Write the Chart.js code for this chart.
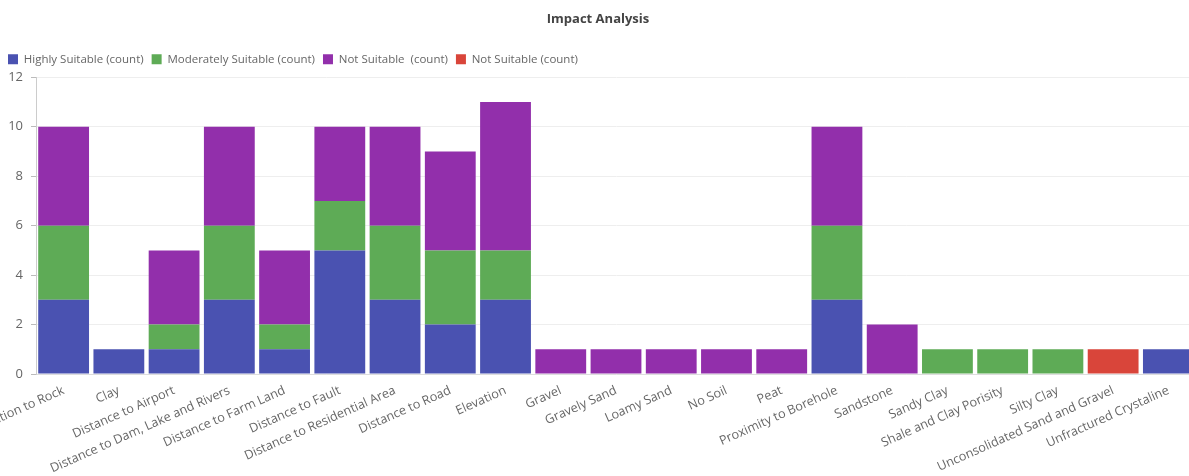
<!DOCTYPE html>
<html lang="en">
<head>
<meta charset="UTF-8">
<title>Impact Analysis</title>
<script src="https://cdn.jsdelivr.net/npm/chart.js"></script>
<style>
  html, body { margin:0; padding:0; background:#fff; overflow:hidden; }
  .wrap { width:1218px; height:476px; position:relative; }
</style>
</head>
<body>
<div class="wrap"><canvas id="impactChart"></canvas></div>

<script>
// factors / soil classes on the x axis
const categories = [
  'Alteration to Rock', 'Clay', 'Distance to Airport', 'Distance to Dam, Lake and Rivers',
  'Distance to Farm Land', 'Distance to Fault', 'Distance to Residential Area', 'Distance to Road',
  'Elevation', 'Gravel', 'Gravely Sand', 'Loamy Sand', 'No Soil', 'Peat',
  'Proximity to Borehole', 'Sandstone', 'Sandy Clay', 'Shale and Clay Porisity', 'Silty Clay',
  'Unconsolidated Sand and Gravel', 'Unfractured Crystaline'
];

// counts per suitability class
const highlySuitable     = [3, 1, 1, 3, 1, 5, 3, 2, 3, 0, 0, 0, 0, 0, 3, 0, 0, 0, 0, 0, 1];
const moderatelySuitable = [3, 0, 1, 3, 1, 2, 3, 3, 2, 0, 0, 0, 0, 0, 3, 0, 1, 1, 1, 0, 0];
const notSuitable        = [4, 0, 3, 4, 3, 3, 4, 4, 6, 1, 1, 1, 1, 1, 4, 2, 0, 0, 0, 0, 0];
const notSuitable2       = [0, 0, 0, 0, 0, 0, 0, 0, 0, 0, 0, 0, 0, 0, 0, 0, 0, 0, 0, 1, 0];

const yTicks = [0, 2, 4, 6, 8, 10, 12];

const FONT = "'Open Sans', sans-serif";
Chart.defaults.font.family = FONT;
Chart.defaults.color = '#666';

const ctx = document.getElementById('impactChart').getContext('2d');
new Chart(ctx, {
  type: 'bar',
  data: {
    labels: categories,
    datasets: [
      { label: 'Highly Suitable (count)',     data: highlySuitable,     backgroundColor: '#4a52b1' },
      { label: 'Moderately Suitable (count)', data: moderatelySuitable, backgroundColor: '#5eab56' },
      { label: 'Not Suitable  (count)',       data: notSuitable,        backgroundColor: '#922fab' },
      { label: 'Not Suitable (count)',        data: notSuitable2,       backgroundColor: '#d9453a' }
    ]
  },
  options: {
    responsive: true,
    maintainAspectRatio: false,
    animation: false,
    categoryPercentage: 1,
    barPercentage: 0.92,
    layout: { padding: { left: 0, right: 22, top: 0, bottom: 0 } },
    plugins: {
      title: {
        display: true,
        text: 'Impact Analysis',
        color: '#444',
        font: { size: 13, weight: 'bold', family: FONT },
        padding: { top: 11, bottom: 19 }
      },
      // empty subtitle used as a small gap between legend and plot
      subtitle: {
        display: true,
        text: '',
        weight: 500,
        font: { size: 1 },
        padding: { top: 0, bottom: 1 }
      },
      legend: {
        position: 'top',
        align: 'start',
        labels: { boxWidth: 10, boxHeight: 10, padding: 8, color: '#666', font: { size: 11.5, family: FONT } }
      },
      tooltip: { enabled: false }
    },
    scales: {
      x: {
        stacked: true,
        grid: { display: false },
        border: { color: '#ddd' },
        ticks: { autoSkip: false, minRotation: 24, maxRotation: 24, padding: 1, color: '#666', font: { size: 12.6 } },
        // let the first rotated label run off the left edge
        afterFit: (scale) => { scale.paddingLeft = 0; scale.height = 102; }
      },
      y: {
        stacked: true,
        min: 0,
        max: 12,
        afterBuildTicks: (scale) => { scale.ticks = yTicks.map(v => ({ value: v })); },
        grid: { color: '#eee', tickLength: 5, tickColor: '#bbb' },
        border: { color: '#ccc' },
        ticks: { padding: 8, color: '#666', font: { size: 13 } },
        afterFit: (scale) => { scale.width = 36; }
      }
    }
  }
});
</script>
</body>
</html>
